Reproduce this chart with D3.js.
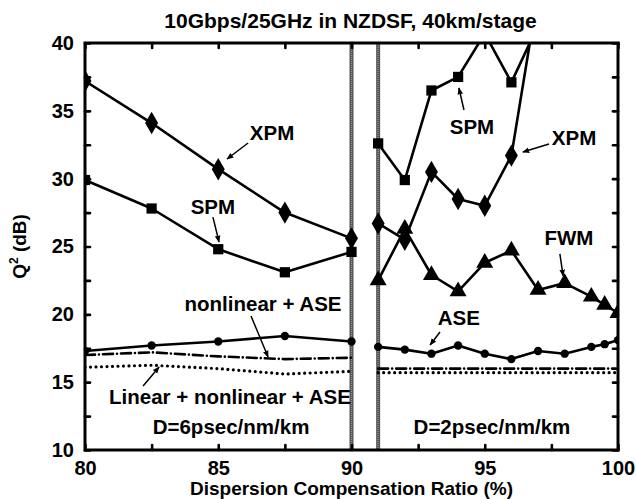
<!DOCTYPE html>
<html>
<head>
<meta charset="utf-8">
<script src="https://cdn.jsdelivr.net/npm/d3@7"></script>
<style>
  html, body { margin: 0; padding: 0; background: #fff; }
  svg { display: block; font-family: "Liberation Sans", Arial, sans-serif; font-weight: bold; }
</style>
</head>
<body>
<svg id="chart" width="636" height="499"></svg>
<script>
// Q^2 versus dispersion compensation ratio, two fibre dispersion regimes
const ratioLeft = [80, 82.5, 85, 87.5, 90];            // D = 6 ps/nm/km
const xpmLeft = [37.2, 34.1, 30.7, 27.5, 25.6];
const spmLeft = [29.9, 27.8, 24.8, 23.1, 24.6];
const aseLeft = [17.3, 17.7, 18.0, 18.4, 18.0];
const nlAseLeft = [17.0, 17.2, 16.9, 16.7, 16.8];
const linNlAseLeft = [16.1, 16.25, 16.0, 15.6, 15.8];

const ratioRightPM = [91, 92, 93, 94, 95, 96, 97];      // D = 2 ps/nm/km
const xpmRight = [26.7, 25.5, 30.5, 28.5, 28.0, 31.7, 43.7];
const spmRight = [32.6, 29.9, 36.5, 37.5, 40.7, 37.1, 41.3];

const ratioRightFine = [91, 92, 93, 94, 95, 96, 97, 98, 99, 99.5, 100];
const fwmRight = [22.5, 26.3, 22.9, 21.7, 23.8, 24.7, 21.8, 22.3, 21.3, 20.7, 20.1];
const aseRight = [17.6, 17.4, 17.1, 17.7, 17.1, 16.7, 17.3, 17.1, 17.6, 17.8, 18.1];

const ratioRightAll = [91, 92, 93, 94, 95, 96, 97, 98, 99, 100];
const nlAseRight = [16.0, 16.0, 16.0, 16.0, 16.0, 16.0, 16.0, 16.0, 16.0, 16.0];
const linNlAseRight = [15.7, 15.7, 15.7, 15.7, 15.7, 15.7, 15.7, 15.7, 15.7, 15.7];

const xTicks = [80, 82.5, 85, 87.5, 90, 92.5, 95, 97.5, 100];
const xTickLabels = [80, 85, 90, 95, 100];
const yTicks = [10, 12.5, 15, 17.5, 20, 22.5, 25, 27.5, 30, 32.5, 35, 37.5, 40];
const yTickLabels = [10, 15, 20, 25, 30, 35, 40];
const regimeBoundaries = [90, 91];

const titleText = "10Gbps/25GHz in NZDSF, 40km/stage";
const xTitle = "Dispersion Compensation Ratio (%)";

// annotations: label position and arrow (from -> to), in data units
const notes = [
  { text: "XPM", x: 87.02, y: 33.37, from: [86.12, 32.63], to: [85.33, 31.45] },
  { text: "SPM", x: 84.80, y: 27.91, from: [84.80, 27.17], to: [85.03, 25.33] },
  { text: "nonlinear + ASE", x: 86.68, y: 20.76, from: [86.23, 19.88], to: [86.87, 16.85] },
  { text: "Linear + nonlinear + ASE", x: 85.44, y: 13.91, from: [82.18, 14.72], to: [82.78, 16.12] },
  { text: "D=6psec/nm/km", x: 85.48, y: 11.70 },
  { text: "D=2psec/nm/km", x: 95.27, y: 11.70 },
  { text: "SPM", x: 94.52, y: 33.81, from: [94.22, 35.06], to: [94.03, 36.68] },
  { text: "XPM", x: 98.35, y: 33.0, from: [97.41, 32.55], to: [96.43, 31.96] },
  { text: "FWM", x: 98.16, y: 25.63, from: [97.82, 24.45], to: [97.94, 22.83] },
  { text: "ASE", x: 94.03, y: 19.73, from: [93.32, 18.70], to: [92.95, 17.74] }
];

const svg = d3.select("#chart");
const L = 85, R = 618, T = 43, B = 450;
const x = d3.scaleLinear().domain([80, 100]).range([L, R]);
const y = d3.scaleLinear().domain([10, 40]).range([B, T]);

svg.append("defs").append("clipPath").attr("id", "plotClip")
  .append("rect").attr("x", L).attr("y", T).attr("width", R - L).attr("height", B - T);

svg.select("defs").append("marker")
  .attr("id", "arrow").attr("viewBox", "0 0 10 10").attr("refX", 9).attr("refY", 5)
  .attr("markerWidth", 7).attr("markerHeight", 7).attr("markerUnits", "userSpaceOnUse")
  .attr("orient", "auto")
  .append("path").attr("d", "M0,1 L10,5 L0,9 Z").attr("fill", "#000");

// title
svg.append("text").attr("x", (L + R) / 2 - 1).attr("y", 28).attr("text-anchor", "middle")
  .attr("font-size", 21).text(titleText);

// regime boundary lines
const plot = svg.append("g").attr("clip-path", "url(#plotClip)");
plot.selectAll("line.bound").data(regimeBoundaries).join("line")
  .attr("class", "bound")
  .attr("x1", d => x(d)).attr("x2", d => x(d)).attr("y1", T).attr("y2", B)
  .attr("stroke", "#555").attr("stroke-width", 4);
plot.selectAll("line.boundIn").data(regimeBoundaries).join("line")
  .attr("class", "boundIn")
  .attr("x1", d => x(d)).attr("x2", d => x(d)).attr("y1", T).attr("y2", B)
  .attr("stroke", "#999").attr("stroke-width", 1.2).attr("stroke-dasharray", "1 1");

const line = d3.line().x(d => x(d[0])).y(d => y(d[1]));
const zip = (xs, ys) => xs.map((v, i) => [v, ys[i]]);

function series(xs, ys, opts) {
  const pts = zip(xs, ys);
  plot.append("path").datum(pts).attr("d", line)
    .attr("fill", "none").attr("stroke", "#000")
    .attr("stroke-width", opts.width || 2.6)
    .attr("stroke-dasharray", opts.dash || null)
    .attr("stroke-linecap", opts.cap || "butt")
    .attr("stroke-linejoin", "round");
  if (opts.symbol) {
    plot.selectAll(null).data(pts).join("path")
      .attr("transform", d => `translate(${x(d[0])},${y(d[1])})`)
      .attr("d", d3.symbol().type(opts.symbol).size(opts.size))
      .attr("fill", "#000");
  }
}

// D = 6 ps/nm/km
series(ratioLeft, linNlAseLeft, { dash: "0 5.5", cap: "round", width: 3.2 });
series(ratioLeft, nlAseLeft, { dash: "10 4 0 4", cap: "round", width: 2.6 });
series(ratioLeft, aseLeft, { symbol: d3.symbolCircle, size: 55 });
series(ratioLeft, spmLeft, { symbol: d3.symbolSquare, size: 105 });
series(ratioLeft, xpmLeft, { symbol: d3.symbolDiamond, size: 145 });

// D = 2 ps/nm/km
series(ratioRightAll, linNlAseRight, { dash: "0 5.5", cap: "round", width: 3.2 });
series(ratioRightAll, nlAseRight, { dash: "10 4 0 4", cap: "round", width: 2.6 });
series(ratioRightFine, aseRight, { symbol: d3.symbolCircle, size: 55 });
series(ratioRightFine, fwmRight, { symbol: d3.symbolTriangle, size: 125 });
series(ratioRightPM, spmRight, { symbol: d3.symbolSquare, size: 105 });
series(ratioRightPM, xpmRight, { symbol: d3.symbolDiamond, size: 145 });

// axes with inward ticks on all four sides
const fmt = d => (xTickLabels.includes(d) ? d : "");
const fmtY = d => (yTickLabels.includes(d) ? d : "");
function styleAxis(g) {
  g.select(".domain").remove();
  g.selectAll(".tick line").attr("stroke", "#000").attr("stroke-width", 2.6)
    .attr("stroke-linecap", "round");
  g.selectAll(".tick text").attr("font-size", 20).attr("font-weight", "bold")
    .attr("font-family", "'Liberation Sans', Arial, sans-serif").attr("fill", "#000");
}
svg.append("g").attr("transform", `translate(0,${B})`)
  .call(d3.axisBottom(x).tickValues(xTicks).tickFormat(fmt).tickSize(-5).tickPadding(11))
  .call(styleAxis);
svg.append("g").attr("transform", `translate(0,${T})`)
  .call(d3.axisTop(x).tickValues(xTicks).tickFormat("").tickSize(-5))
  .call(styleAxis);
svg.append("g").attr("transform", `translate(${L},0)`)
  .call(d3.axisLeft(y).tickValues(yTicks).tickFormat(fmtY).tickSize(-5).tickPadding(11))
  .call(styleAxis);
svg.append("g").attr("transform", `translate(${R},0)`)
  .call(d3.axisRight(y).tickValues(yTicks).tickFormat("").tickSize(-5))
  .call(styleAxis);

// frame
svg.append("rect").attr("x", L).attr("y", T).attr("width", R - L).attr("height", B - T)
  .attr("fill", "none").attr("stroke", "#000").attr("stroke-width", 3);

// axis titles
svg.append("text").attr("x", (L + R) / 2).attr("y", 495).attr("text-anchor", "middle")
  .attr("font-size", 19).text(xTitle);
const yt = svg.append("text").attr("transform", `translate(26,${(T + B) / 2}) rotate(-90)`)
  .attr("text-anchor", "middle").attr("font-size", 19);
yt.append("tspan").text("Q");
yt.append("tspan").attr("font-size", 12).attr("dy", -8).text("2");
yt.append("tspan").attr("dy", 8).text(" (dB)");

// annotations
const ann = svg.append("g");
ann.selectAll("text").data(notes).join("text")
  .attr("x", d => x(d.x)).attr("y", d => y(d.y)).attr("dy", "0.36em")
  .attr("text-anchor", "middle").attr("font-size", 20.5).text(d => d.text);
ann.selectAll("line").data(notes.filter(d => d.from)).join("line")
  .attr("x1", d => x(d.from[0])).attr("y1", d => y(d.from[1]))
  .attr("x2", d => x(d.to[0])).attr("y2", d => y(d.to[1]))
  .attr("stroke", "#000").attr("stroke-width", 1.5).attr("marker-end", "url(#arrow)");
</script>
</body>
</html>
